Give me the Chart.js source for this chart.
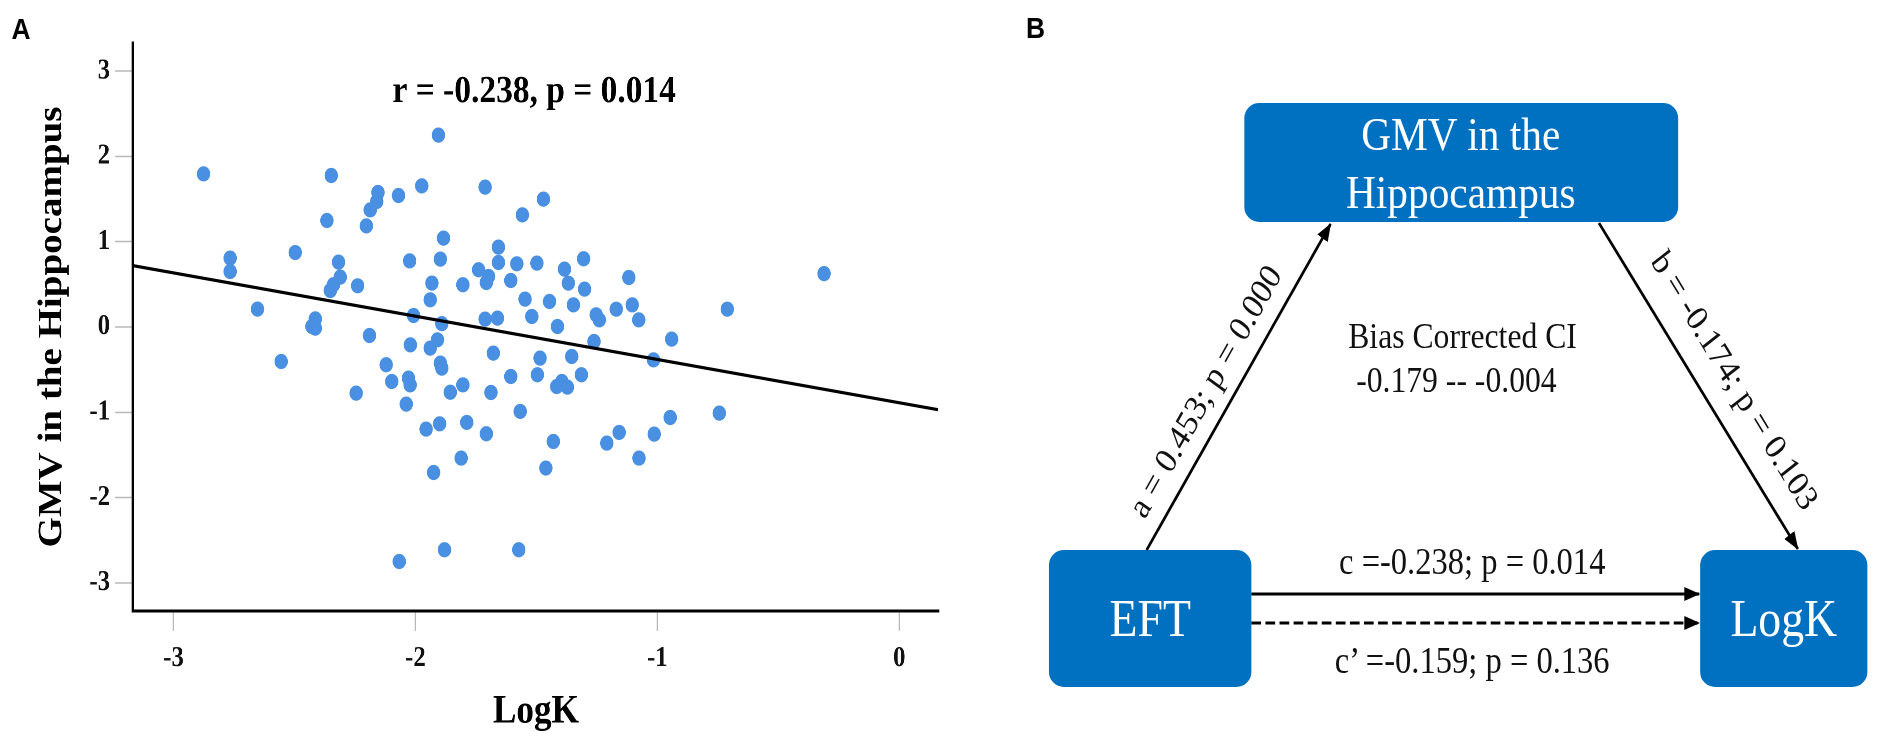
<!DOCTYPE html>
<html>
<head>
<meta charset="utf-8">
<script src="https://cdn.jsdelivr.net/npm/chart.js@4.4.1/dist/chart.umd.min.js"></script>
<style>
  html, body { margin:0; padding:0; background:#fff; overflow:hidden; width:1904px; height:742px; }
  #wrap { position:absolute; left:0; top:0; width:2164px; height:742px; transform:scaleX(0.88); transform-origin:0 0; }
  #chartBox { position:absolute; left:0; top:0; width:1100px; height:742px; }
  #diagram { position:absolute; left:0; top:0; }
  .serif { font-family:"Liberation Serif","Times New Roman",serif; }
  .sans { font-family:"Liberation Sans",Arial,sans-serif; font-weight:bold; }
</style>
</head>
<body>
<div id="wrap">
  <div id="chartBox"><canvas id="c"></canvas></div>
  <svg id="diagram" width="2164" height="742" viewBox="0 0 2164 742" xmlns="http://www.w3.org/2000/svg">
    <defs>
      <marker id="ah" markerUnits="userSpaceOnUse" markerWidth="18" markerHeight="14" refX="17" refY="7" orient="auto">
        <path d="M0,0 L18,7 L0,14 z" fill="#000"/>
      </marker>
    </defs>
    <text class="sans" x="13" y="39" font-size="30">A</text>
    <text class="sans" x="1166" y="38" font-size="30">B</text>

    <!-- boxes -->
    <rect x="1414" y="103" width="493" height="119" rx="17" ry="15" fill="#0070C0"/>
    <text class="serif" x="1660" y="150" font-size="47" fill="#fff" text-anchor="middle">GMV in the</text>
    <text class="serif" x="1660" y="208" font-size="47" fill="#fff" text-anchor="middle">Hippocampus</text>

    <rect x="1192" y="550" width="230" height="137" rx="17" ry="15" fill="#0070C0"/>
    <text class="serif" x="1307" y="636" font-size="52" fill="#fff" text-anchor="middle">EFT</text>

    <rect x="1932" y="550" width="190" height="137" rx="17" ry="15" fill="#0070C0"/>
    <text class="serif" x="2027" y="636" font-size="52" fill="#fff" text-anchor="middle">LogK</text>

    <!-- arrows -->
    <line x1="1303" y1="550" x2="1512" y2="224" stroke="#000" stroke-width="3" marker-end="url(#ah)"/>
    <line x1="1817" y1="223" x2="2043" y2="549" stroke="#000" stroke-width="3" marker-end="url(#ah)"/>
    <line x1="1422" y1="594" x2="1931" y2="594" stroke="#000" stroke-width="3" marker-end="url(#ah)"/>
    <line x1="1422" y1="623" x2="1931" y2="623" stroke="#000" stroke-width="3" stroke-dasharray="11 5" marker-end="url(#ah)"/>

    <!-- labels -->
    <text class="serif" x="1369" y="391" font-size="36" fill="#111" text-anchor="middle" dominant-baseline="central" transform="rotate(-57.4 1369 391)">a = 0.453; p = 0.000</text>
    <text class="serif" x="1972" y="380" font-size="36" fill="#111" text-anchor="middle" dominant-baseline="central" transform="rotate(55.3 1972 380)">b = -0.174; p = 0.103</text>
    <text class="serif" x="1662" y="348" font-size="36" fill="#111" text-anchor="middle">Bias Corrected CI</text>
    <text class="serif" x="1655" y="392" font-size="36" fill="#111" text-anchor="middle">-0.179 -- -0.004</text>
    <text class="serif" x="1673" y="574" font-size="37" fill="#111" text-anchor="middle">c =-0.238; p = 0.014</text>
    <text class="serif" x="1673" y="673" font-size="37" fill="#111" text-anchor="middle">c’ =-0.159; p = 0.136</text>
  </svg>
</div>
<script>
// ---- data (panel A) ----
const logK = [-2.876,-1.905,-2.348,-2.366,-2.155,-2.160,-2.187,-2.203,-2.070,-1.974,-1.884,-2.766,-2.766,-2.497,-2.318,-2.024,-1.897,
  -2.311,-2.339,-2.352,-2.239,-1.932,-1.939,-2.008,-1.891,-2.653,-2.414,-2.428,-2.414,-2.190,-2.555,-2.021,-1.909,-1.939,-1.897,-1.891,-2.121,-2.098,-2.029,-2.022,-2.245,-2.038,-1.956,-1.900,-1.925,-1.856,
  -1.712,-1.471,-1.558,-1.657,-1.657,-1.739,-1.581,-1.498,-1.384,-1.305,-1.118,-1.698,-1.707,-1.368,-1.301,-1.804,-1.606,-1.547,-1.446,-1.347,-1.519,-1.413,-1.712,-1.661,-1.253,-1.240,-1.170,-1.104,-1.077,-0.711,-1.262,-0.941,-1.016,-1.678,-1.485,-1.354,-1.606,-1.496,-1.314,-1.416,-1.395,-1.372,-1.804,-1.688,-1.567,-0.744,-1.788,-1.707,-0.947,-1.013,-1.158,-1.209,-1.430,-1.811,-1.076,-1.461,-0.311,-2.067,-1.880,-1.573];
const gmv = [1.796,2.25,1.776,1.249,1.577,1.471,1.374,1.186,1.542,1.655,1.042,0.808,0.651,0.873,0.761,0.776,0.796,
  0.585,0.495,0.428,0.483,0.515,0.319,0.135,0.040,0.210,0.096,0.006,-0.013,-0.100,-0.404,-0.209,-0.150,-0.248,-0.423,-0.482,-0.443,-0.639,-0.599,-0.678,-0.775,-0.904,-1.197,-1.135,-1.706,-0.765,
  1.640,1.499,1.315,0.937,0.756,0.671,0.741,0.749,0.679,0.800,0.58,0.592,0.522,0.514,0.444,0.495,0.545,0.327,0.299,0.260,0.123,0.006,0.092,0.104,0.143,0.084,0.209,0.260,0.084,0.209,-0.170,-0.142,-0.385,-0.306,-0.365,-0.346,-0.580,-0.560,-0.560,-0.697,-0.639,-0.705,-0.678,-0.768,-0.990,-1.010,-1.119,-1.252,-1.061,-1.256,-1.236,-1.361,-1.342,-1.537,-1.537,-1.654,0.626,-2.75,-2.612,-2.612];
const fitX = [-3.17, 0.16];
const fitY = [0.72, -0.97];
const xTicks = [-3, -2, -1, 0];
const yTicks = [-3, -2, -1, 0, 1, 2, 3];
const xRange = [-3.168, 0.164];
const yRange = [-3.33, 3.33];
const statText = 'r = -0.238, p = 0.014';
const statY = 2.64;
const xTitle = 'LogK';
const yTitle = 'GMV in the Hippocampus';

const SERIF = '"Liberation Serif","Times New Roman",serif';

const statPlugin = {
  id: 'stat',
  afterDatasetsDraw(chart) {
    const {ctx, chartArea, scales} = chart;
    ctx.save();
    ctx.font = 'bold 38px ' + SERIF;
    ctx.fillStyle = '#000';
    ctx.textAlign = 'center';
    ctx.textBaseline = 'alphabetic';
    ctx.fillText(statText, (chartArea.left + chartArea.right) / 2 - 2, scales.y.getPixelForValue(statY));
    ctx.restore();
  }
};

new Chart(document.getElementById('c'), {
  type: 'scatter',
  data: {
    datasets: [
      {
        type: 'line',
        data: fitX.map((x, i) => ({x, y: fitY[i]})),
        borderColor: '#000',
        borderWidth: 3.2,
        pointRadius: 0,
        fill: false,
        order: 0
      },
      {
        data: logK.map((x, i) => ({x, y: gmv[i]})),
        backgroundColor: 'rgb(74,144,226)',
        borderWidth: 0,
        pointRadius: 7.6,
        order: 1
      }
    ]
  },
  options: {
    responsive: true,
    maintainAspectRatio: false,
    animation: false,
    devicePixelRatio: 2,
    layout: { padding: { left: 0, top: 43, right: 33, bottom: 0 } },
    plugins: { legend: { display: false }, tooltip: { enabled: false } },
    scales: {
      x: {
        type: 'linear',
        min: xRange[0], max: xRange[1],
        afterBuildTicks: s => { s.ticks = xTicks.map(v => ({value: v})); },
        afterFit: s => { s.height = 131; },
        border: { display: true, color: '#000', width: 3 },
        grid: { drawOnChartArea: false, drawTicks: true, tickLength: 20, tickColor: '#b8b8b8', tickWidth: 1.5 },
        ticks: { padding: 11, color: '#111', font: { family: SERIF, size: 28, weight: 'bold' } },
        title: { display: true, text: xTitle, color: '#000', font: { family: SERIF, size: 40, weight: 'bold' }, padding: { top: 0, bottom: 6 } }
      },
      y: {
        type: 'linear',
        min: yRange[0], max: yRange[1],
        afterBuildTicks: s => { s.ticks = yTicks.map(v => ({value: v})); },
        afterFit: s => { s.width = 151; },
        border: { display: true, color: '#000', width: 3 },
        grid: { drawOnChartArea: false, drawTicks: true, tickLength: 20, tickColor: '#b8b8b8', tickWidth: 1.5 },
        ticks: { padding: 6, color: '#111', font: { family: SERIF, size: 28, weight: 'bold' } },
        title: { display: true, text: yTitle, color: '#000', font: { family: SERIF, size: 39, weight: 'bold' }, padding: { top: 36, bottom: 0 } }
      }
    }
  },
  plugins: [statPlugin]
});
</script>
</body>
</html>
